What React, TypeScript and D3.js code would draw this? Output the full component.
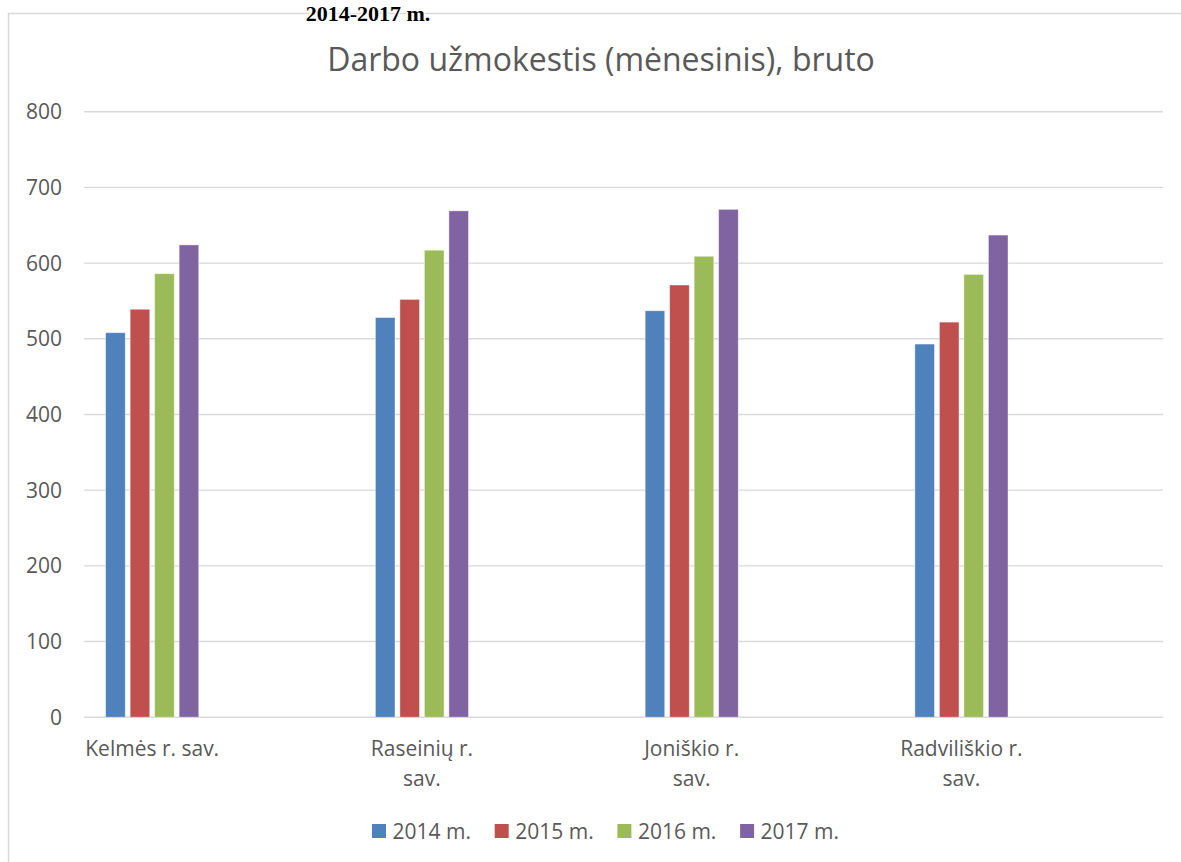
import React from "react";
import * as d3 from "d3";

const categories = ["Kelmės r. sav.", "Raseinių r. sav.", "Joniškio r. sav.", "Radviliškio r. sav."];
const seriesNames = ["2014 m.", "2015 m.", "2016 m.", "2017 m."];
const values2014 = [508, 528, 537, 493];
const values2015 = [539, 552, 571, 522];
const values2016 = [586, 617, 609, 585];
const values2017 = [624, 669, 671, 637];
const yTicks = [0, 100, 200, 300, 400, 500, 600, 700, 800];
const colors = ["#4F81BD", "#C0504D", "#9BBB59", "#8064A2"];
const title = "Darbo užmokestis (mėnesinis), bruto";
const heading = "2014-2017 m.";

const W = 1181;
const H = 862;
const FONT = "'Open Sans', 'Noto Sans', sans-serif";
const TXT = "#595959";

function wrapLabel(s: string): string[] {
  if (s.length <= 14) return [s];
  const i = s.lastIndexOf(" ");
  return [s.slice(0, i), s.slice(i + 1)];
}

export default function App() {
  const plotLeft = 84;
  const plotRight = 1163;
  const y = d3.scaleLinear().domain([0, 800]).range([717.2, 111.7]);
  const x0 = d3.scaleBand<string>().domain(categories).range([plotLeft, plotRight]);
  const x1 = d3
    .scaleBand<string>()
    .domain(seriesNames)
    .range([19.2, 117.2])
    .paddingInner(0.2)
    .paddingOuter(0.1);
  const all = [values2014, values2015, values2016, values2017];
  const groupCenter = (c: string) => (x0(c) as number) + 19.2 + 49;

  return (
    <svg
      width={W}
      height={H}
      style={{ position: "absolute", left: 0, top: 0, background: "#fff" }}
      fontFamily={FONT}
    >
      <rect x={0} y={0} width={W} height={H} fill="#fff" />
      <rect x={8.5} y={13.5} width={1200} height={900} fill="none" stroke="#D9D9D9" strokeWidth={1.5} />
      <text
        x={368}
        y={21}
        textAnchor="middle"
        fontFamily="'Liberation Serif', 'Times New Roman', serif"
        fontWeight="bold"
        fontSize={22}
        fill="#000"
        stroke="#fff"
        strokeWidth={3}
        paintOrder="stroke"
      >
        {heading}
      </text>
      <text x={601} y={71} textAnchor="middle" fontSize={32} fill={TXT}>
        {title}
      </text>
      {yTicks.map((t) => (
        <g key={t}>
          <line x1={plotLeft} x2={plotRight} y1={y(t)} y2={y(t)} stroke="#D9D9D9" strokeWidth={1.4} />
          <text x={62} y={y(t)} dy="0.36em" textAnchor="end" fontSize={21} fill={TXT}>
            {t}
          </text>
        </g>
      ))}
      {categories.map((c, ci) => (
        <g key={c}>
          {seriesNames.map((s, si) => {
            const v = all[si][ci];
            const bx = (x0(c) as number) + (x1(s) as number);
            return (
              <rect
                key={s}
                x={bx}
                y={y(v)}
                width={x1.bandwidth()}
                height={y(0) - y(v)}
                fill={colors[si]}
                stroke="#ffffff"
                strokeOpacity={0.5}
                strokeWidth={0.8}
              />
            );
          })}
          {wrapLabel(c).map((line, li) => (
            <text
              key={li}
              x={groupCenter(c)}
              y={756 + li * 29.5}
              textAnchor="middle"
              fontSize={21}
              fill={TXT}
            >
              {line}
            </text>
          ))}
        </g>
      ))}
      {seriesNames.map((s, si) => (
        <g key={s} transform={`translate(${372 + si * 122.7},0)`}>
          <rect x={0} y={824} width={14} height={14} fill={colors[si]} />
          <text x={20.5} y={838.5} fontSize={21} fill={TXT}>
            {s}
          </text>
        </g>
      ))}
    </svg>
  );
}
